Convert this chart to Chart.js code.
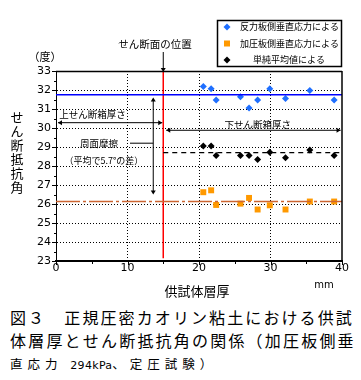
<!DOCTYPE html>
<html>
<head>
<meta charset="utf-8">
<script src="https://cdn.jsdelivr.net/npm/chart.js@4.4.1/dist/chart.umd.min.js"></script>
<style>
  body { margin: 0; background: #fff; width: 361px; height: 380px; overflow: hidden; position: relative; }
  #c { position: absolute; left: 0; top: 0; }
  .cap { position: absolute; left: 10px; font-family: "Noto Sans CJK JP", sans-serif; color: #000; white-space: nowrap; line-height: 1; }
  #l1 { top: 309px; font-size: 16px; letter-spacing: 2.1px; }
  #l2 { top: 332px; font-size: 16px; letter-spacing: 2.2px; }
  #l3 { top: 358px; font-size: 12.5px; letter-spacing: 5px; }
  #l3 span { letter-spacing: 0.3px; font-family: "DejaVu Sans", sans-serif; font-size: 11px; }
</style>
</head>
<body>
<canvas id="c" width="361" height="300"></canvas>
<div class="cap" id="l1">図３　正規圧密カオリン粘土における供試</div>
<div class="cap" id="l2">体層厚とせん断抵抗角の関係（加圧板側垂</div>
<div class="cap" id="l3">直応力 <span>294kPa</span>、定圧試験）</div>
<script>
// 供試体層厚 (mm)
const thickness = [20.6, 21.7, 22.4, 25.8, 27.0, 28.2, 29.9, 32.1, 35.5, 38.9];
// せん断抵抗角 (度)
const reactionSide = [32.18, 32.07, 31.47, 31.65, 31.05, 31.47, 32.07, 31.55, 31.97, 31.47];
const loadingSide = [26.62, 26.72, 25.95, 26.02, 26.32, 25.71, 25.93, 25.71, 26.13, 26.13];
const simpleMean = [29.05, 29.05, 28.55, 28.55, 28.55, 28.34, 28.72, 28.44, 28.84, 28.55];

// 平均線
const reactionAvg = 31.75;
const loadingAvg = 26.13;
const meanAvg = 28.7;
const shearPlane = 15;

const legendNames = ['反力板側垂直応力による', '加圧板側垂直応力による', '単純平均値による'];
const xTicks = [0, 10, 20, 30, 40];
const yTicks = [23, 24, 25, 26, 27, 28, 29, 30, 31, 32, 33];

const pts = ys => thickness.map((x, i) => ({x: x, y: ys[i]}));
const jp = '"Noto Sans CJK JP", sans-serif';

function arrowHead(ctx, x, y, dir) {
  // dir: 'l','r','u','d'
  ctx.beginPath();
  const s = 4, w = 2.5;
  if (dir === 'l') { ctx.moveTo(x, y); ctx.lineTo(x + s, y - w); ctx.lineTo(x + s, y + w); }
  if (dir === 'r') { ctx.moveTo(x, y); ctx.lineTo(x - s, y - w); ctx.lineTo(x - s, y + w); }
  if (dir === 'u') { ctx.moveTo(x, y); ctx.lineTo(x - w, y + s); ctx.lineTo(x + w, y + s); }
  if (dir === 'd') { ctx.moveTo(x, y); ctx.lineTo(x - w, y - s); ctx.lineTo(x + w, y - s); }
  ctx.closePath();
  ctx.fill();
}

function line(ctx, x1, y1, x2, y2, w) {
  ctx.beginPath();
  ctx.lineWidth = w || 1;
  ctx.moveTo(x1, y1);
  ctx.lineTo(x2, y2);
  ctx.stroke();
}

const extras = {
  id: 'extras',
  afterDraw(chart) {
    const ctx = chart.ctx;
    const xs = chart.scales.x, ys = chart.scales.y;
    const a = chart.chartArea;
    const X = v => xs.getPixelForValue(v), Y = v => ys.getPixelForValue(v);
    ctx.save();
    ctx.strokeStyle = '#000';
    ctx.fillStyle = '#000';

    // top & right border
    line(ctx, a.left, a.top + 0.5, a.right, a.top + 0.5, 1.5);
    line(ctx, a.right, a.top, a.right, a.bottom, 1.5);

    // tick marks
    for (let v = 23; v <= 33; v += 0.5) {
      const len = Number.isInteger(v) ? 4 : 2;
      line(ctx, a.left - len, Math.round(Y(v)) + 0.5, a.left, Math.round(Y(v)) + 0.5, 1);
    }
    for (let v = 0; v <= 40; v += 5) {
      const len = v % 10 === 0 ? 4 : 3;
      line(ctx, Math.round(X(v)) + 0.5, a.bottom, Math.round(X(v)) + 0.5, a.bottom + len, 1);
    }

    // せん断面の位置
    ctx.font = '10.5px ' + jp;
    ctx.textAlign = 'center';
    ctx.textBaseline = 'middle';
    ctx.fillText('せん断面の位置', 155, 44);
    line(ctx, X(shearPlane), 52, X(shearPlane), a.top - 1, 1);
    arrowHead(ctx, X(shearPlane), a.top + 1, 'd');

    // 上せん断箱厚さ
    ctx.font = '9.5px ' + jp;
    ctx.fillText('上せん断箱厚さ', X(5.1), Y(30.72));
    const yu = Y(30.28);
    line(ctx, X(0) + 2, yu, X(shearPlane) - 1, yu, 1);
    arrowHead(ctx, X(0) + 2, yu, 'l');
    arrowHead(ctx, X(shearPlane) - 1, yu, 'r');

    // 下せん断箱厚さ
    ctx.fillText('下せん断箱厚さ', X(28.2), Y(30.2));
    const yl = Y(29.88);
    line(ctx, X(shearPlane) + 3, yl, X(39.8), yl, 1);
    arrowHead(ctx, X(shearPlane) + 3, yl, 'l');
    arrowHead(ctx, X(39.8), yl, 'r');

    // 周面摩擦
    const xv = X(13.6);
    line(ctx, xv, Y(31.5), xv, Y(26.62), 1);
    arrowHead(ctx, xv, Y(31.6), 'u');
    arrowHead(ctx, xv, Y(26.5), 'd');
    line(ctx, X(10.35), Y(29.2), xv, Y(29.2), 1);
    ctx.fillText('周面摩擦', X(6.0), Y(29.2));
    ctx.font = '9px ' + jp;
    ctx.fillText('（平均で5.7°の差）', X(6.7), Y(28.3));

    // 軸タイトル
    ctx.font = '11px ' + jp;
    ctx.fillText('（度）', 45, 57);
    ctx.font = '13px ' + jp;
    ctx.fillText('供試体層厚', 197, 291);
    'せん断抵抗角'.split('').forEach((ch, i) => ctx.fillText(ch, 17, 117 + i * 14));
    ctx.font = '10px "DejaVu Sans", sans-serif';
    ctx.fillText('mm', 324, 285);

    // 凡例
    ctx.lineWidth = 1.5;
    ctx.strokeRect(217.5, 20.5, 124, 46);
    const rows = [27, 43.5, 60];
    ctx.font = '9px ' + jp;
    ctx.textAlign = 'left';
    // blue diamond
    ctx.fillStyle = '#1f6fff';
    ctx.beginPath();
    ctx.moveTo(227, rows[0] - 3.5); ctx.lineTo(230.5, rows[0]); ctx.lineTo(227, rows[0] + 3.5); ctx.lineTo(223.5, rows[0]);
    ctx.closePath(); ctx.fill();
    // orange square
    ctx.fillStyle = '#ff9900';
    ctx.fillRect(224, rows[1] - 3, 6, 6);
    // black diamond
    ctx.fillStyle = '#000';
    ctx.beginPath();
    ctx.moveTo(227, rows[2] - 3.5); ctx.lineTo(230.5, rows[2]); ctx.lineTo(227, rows[2] + 3.5); ctx.lineTo(223.5, rows[2]);
    ctx.closePath(); ctx.fill();
    ctx.fillText(legendNames[0], 240, rows[0]);
    ctx.fillText(legendNames[1], 240, rows[1]);
    ctx.fillText(legendNames[2], 253, rows[2]);
    ctx.restore();
  }
};

new Chart(document.getElementById('c'), {
  type: 'scatter',
  data: {
    datasets: [
      {
        type: 'line', data: [{x: 0, y: reactionAvg}, {x: 40, y: reactionAvg}],
        borderColor: '#0000ff', borderWidth: 1.5, pointRadius: 0
      },
      {
        type: 'line', data: [{x: 0, y: loadingAvg}, {x: 40, y: loadingAvg}],
        borderColor: '#cc6633', borderWidth: 1.5, pointRadius: 0, borderDash: [24, 3, 3, 3]
      },
      {
        type: 'line', data: [{x: shearPlane, y: meanAvg}, {x: 40, y: meanAvg}],
        borderColor: '#000', borderWidth: 1.2, pointRadius: 0, borderDash: [5, 4]
      },
      {
        type: 'line', data: [{x: shearPlane, y: 33}, {x: shearPlane, y: 23.15}],
        borderColor: '#ff0000', borderWidth: 1.5, pointRadius: 0
      },
      {
        label: legendNames[0], data: pts(reactionSide),
        pointStyle: 'rectRot', pointRadius: 3.5, backgroundColor: '#1f6fff', borderColor: '#1f6fff', borderWidth: 0
      },
      {
        label: legendNames[1], data: pts(loadingSide),
        pointStyle: 'rect', pointRadius: 4.2, backgroundColor: '#ff9900', borderColor: '#ff9900', borderWidth: 0
      },
      {
        label: legendNames[2], data: pts(simpleMean),
        pointStyle: 'rectRot', pointRadius: 3.5, backgroundColor: '#000', borderColor: '#000', borderWidth: 0
      }
    ]
  },
  options: {
    responsive: false,
    animation: false,
    devicePixelRatio: 1,
    layout: { padding: { top: 71, right: 19, left: 0, bottom: 0 } },
    plugins: { legend: { display: false }, tooltip: { enabled: false } },
    scales: {
      x: {
        type: 'linear', min: 0, max: 40,
        afterFit: s => { s.height = 39; },
        afterBuildTicks: s => { s.ticks = xTicks.map(v => ({value: v})); },
        ticks: { padding: 1, color: '#000', font: { family: '"DejaVu Sans", sans-serif', size: 11 } },
        grid: {
          drawTicks: false,
          color: c => (c.tick && (c.tick.value === 0 || c.tick.value === 40)) ? 'rgba(0,0,0,0)' : '#000',
          lineWidth: 1
        },
        border: { color: '#000', width: 2, dash: [1, 2] }
      },
      y: {
        type: 'linear', min: 23, max: 33,
        afterFit: s => { s.width = 56; },
        afterBuildTicks: s => { s.ticks = yTicks.map(v => ({value: v})); },
        ticks: { padding: 5, color: '#000', font: { family: '"DejaVu Sans", sans-serif', size: 11 } },
        grid: {
          drawTicks: false,
          color: c => (c.tick && (c.tick.value === 23 || c.tick.value === 33)) ? 'rgba(0,0,0,0)' : '#000',
          lineWidth: 1
        },
        border: { color: '#000', width: 1, dash: [1, 2] }
      }
    }
  },
  plugins: [extras]
});
</script>
</body>
</html>
